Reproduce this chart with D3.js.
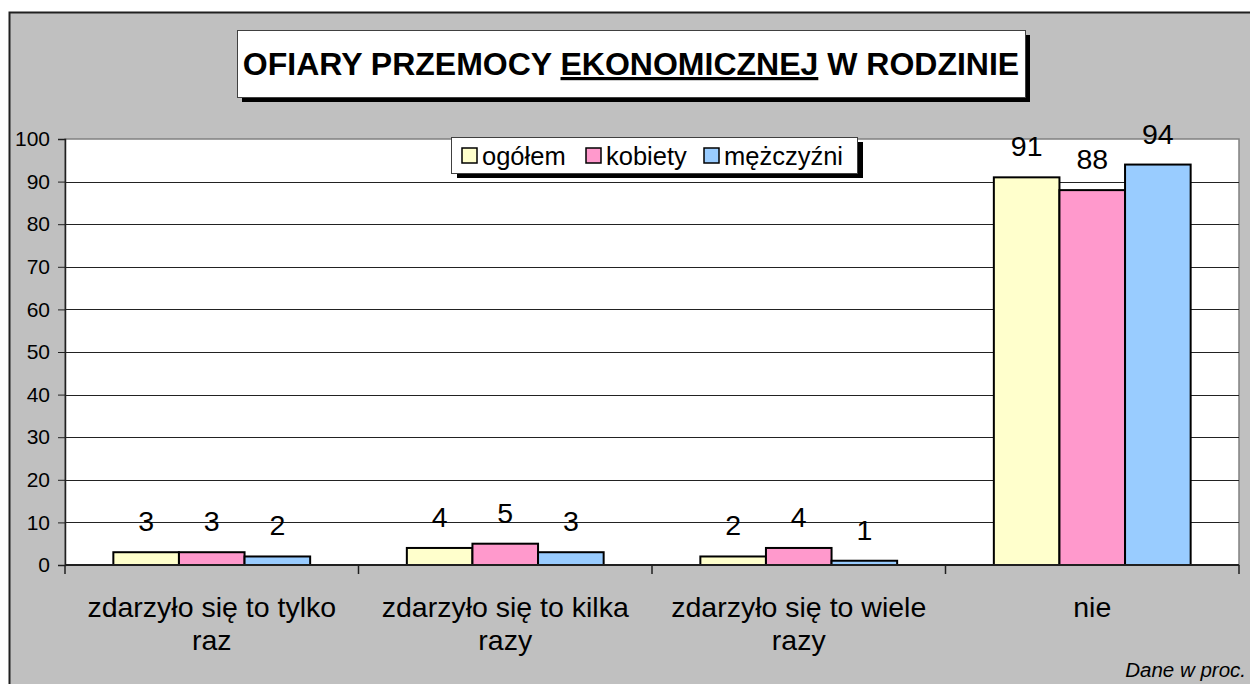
<!DOCTYPE html>
<html>
  <head>
    <meta charset="utf-8">
    <script src="https://d3js.org/d3.v7.min.js"></script>
    <title>Ofiary przemocy ekonomicznej w rodzinie</title>
    <style>
      body {
        margin: 0px;
        background: #fff;
      }
      text {
        font-family: "Liberation Sans", Arial, sans-serif;
        fill: #000;
      }
      .tick text {
        font-size: 21px;
      }
    </style>
  </head>
  <body>
    <div id="viz1"></div>
    <script>
      // data
      const categories = ['zdarzyło się to tylko raz', 'zdarzyło się to kilka razy', 'zdarzyło się to wiele razy', 'nie'];
      const seriesNames = ['ogółem', 'kobiety', 'mężczyźni'];
      const ogolem = [3, 4, 2, 91];
      const kobiety = [3, 5, 4, 88];
      const mezczyzni = [2, 3, 1, 94];
      const yTicks = [0, 10, 20, 30, 40, 50, 60, 70, 80, 90, 100];
      const colors = ['#FFFFCC', '#FF99CC', '#99CCFF'];

      const seriesValues = [ogolem, kobiety, mezczyzni];

      const width = 1250, height = 684;
      const plot = { left: 65, right: 1239, top: 139, bottom: 565 };

      const svg = d3.select('#viz1').append('svg')
        .attr('width', width)
        .attr('height', height);

      // chart area
      svg.append('rect')
        .attr('x', 9.5).attr('y', 12.5)
        .attr('width', width).attr('height', height)
        .attr('fill', '#C0C0C0')
        .attr('stroke', '#202020')
        .attr('stroke-width', 2);

      // scales
      const xScale = d3.scaleBand()
        .domain(categories)
        .range([plot.left, plot.right])
        .paddingInner(0).paddingOuter(0);

      const xInner = d3.scaleBand()
        .domain(seriesNames)
        .range([0, xScale.bandwidth()])
        .paddingInner(0)
        .paddingOuter(0.737);

      const yScale = d3.scaleLinear()
        .domain([0, 100])
        .range([plot.bottom, plot.top]);

      // plot area
      svg.append('rect')
        .attr('x', plot.left).attr('y', plot.top)
        .attr('width', plot.right - plot.left)
        .attr('height', plot.bottom - plot.top)
        .attr('fill', '#fff')
        .attr('stroke', '#808080')
        .attr('stroke-width', 1.5);

      // y axis + gridlines
      const yAxis = d3.axisLeft(yScale)
        .tickValues(yTicks)
        .tickSize(7)
        .tickPadding(8);

      const yAxisG = svg.append('g')
        .attr('transform', `translate(${plot.left},0)`)
        .call(yAxis);
      yAxisG.select('.domain').attr('stroke', '#202020').attr('stroke-width', 1.5);
      yAxisG.selectAll('.tick line').attr('stroke', '#202020');

      svg.append('g').selectAll('line')
        .data(yTicks.filter(d => d > 0 && d < 100))
        .enter().append('line')
          .attr('x1', plot.left).attr('x2', plot.right)
          .attr('y1', d => Math.round(yScale(d)) + 0.5)
          .attr('y2', d => Math.round(yScale(d)) + 0.5)
          .attr('stroke', '#222');

      // bars
      const groups = svg.append('g').selectAll('g')
        .data(categories)
        .enter().append('g')
          .attr('transform', d => `translate(${xScale(d)},0)`);

      groups.selectAll('rect')
        .data((d, i) => seriesNames.map((s, j) => ({ s: s, j: j, v: seriesValues[j][i] })))
        .enter().append('rect')
          .attr('x', d => xInner(d.s))
          .attr('y', d => yScale(d.v))
          .attr('width', xInner.bandwidth())
          .attr('height', d => plot.bottom - yScale(d.v))
          .attr('fill', d => colors[d.j])
          .attr('stroke', '#000')
          .attr('stroke-width', 2);

      groups.selectAll('text.val')
        .data((d, i) => seriesNames.map((s, j) => ({ s: s, j: j, v: seriesValues[j][i] })))
        .enter().append('text')
          .attr('class', 'val')
          .attr('x', d => xInner(d.s) + xInner.bandwidth() / 2)
          .attr('y', d => yScale(d.v) - 21)
          .attr('text-anchor', 'middle')
          .style('font-size', '28.5px')
          .text(d => d.v);

      // x axis
      const xAxisG = svg.append('g')
        .attr('transform', `translate(0,${plot.bottom})`);
      xAxisG.append('line')
        .attr('x1', plot.left).attr('x2', plot.right)
        .attr('stroke', '#202020').attr('stroke-width', 2);
      xAxisG.selectAll('line.tk')
        .data(d3.range(categories.length + 1))
        .enter().append('line')
          .attr('class', 'tk')
          .attr('x1', i => plot.left + i * xScale.step())
          .attr('x2', i => plot.left + i * xScale.step())
          .attr('y1', 0).attr('y2', 9)
          .attr('stroke', '#202020').attr('stroke-width', 1.5);

      const catText = xAxisG.selectAll('text.cat')
        .data(categories)
        .enter().append('text')
          .attr('class', 'cat')
          .attr('text-anchor', 'middle')
          .attr('x', d => xScale(d) + xScale.bandwidth() / 2)
          .attr('y', 52)
          .style('font-size', '28.5px')
          .text(d => d);

      // wrap long labels
      catText.each(function(d) {
        const t = d3.select(this);
        const words = d.split(' ');
        const x = t.attr('x');
        t.text(null);
        let line = [];
        let tspan = t.append('tspan').attr('x', x).attr('dy', 0);
        words.forEach(w => {
          line.push(w);
          tspan.text(line.join(' '));
          if (tspan.node().getComputedTextLength() > 275 && line.length > 1) {
            line.pop();
            tspan.text(line.join(' '));
            line = [w];
            tspan = t.append('tspan').attr('x', x).attr('dy', 33).text(w);
          }
        });
      });

      // title
      const titleG = svg.append('g');
      titleG.append('rect')
        .attr('x', 242).attr('y', 35).attr('width', 788).attr('height', 67)
        .attr('fill', '#000');
      titleG.append('rect')
        .attr('x', 237.5).attr('y', 30.5).attr('width', 788).attr('height', 67)
        .attr('fill', '#fff').attr('stroke', '#404040');
      const title = titleG.append('text')
        .attr('x', 631).attr('y', 75)
        .attr('text-anchor', 'middle')
        .style('font-size', '32px')
        .style('font-weight', 'bold');
      title.append('tspan').text('OFIARY PRZEMOCY ');
      title.append('tspan').style('text-decoration', 'underline').text('EKONOMICZNEJ');
      title.append('tspan').text(' W RODZINIE');

      // legend
      const legendG = svg.append('g');
      legendG.append('rect')
        .attr('x', 457).attr('y', 142).attr('width', 406).attr('height', 36)
        .attr('fill', '#000');
      legendG.append('rect')
        .attr('x', 451.5).attr('y', 137.5).attr('width', 406).attr('height', 36)
        .attr('fill', '#fff').attr('stroke', '#404040');
      const legendX = [462, 586, 704];
      const items = legendG.selectAll('g.item')
        .data(seriesNames)
        .enter().append('g')
          .attr('transform', (d, i) => `translate(${legendX[i]},148)`);
      items.append('rect')
        .attr('width', 15).attr('height', 15)
        .attr('fill', (d, i) => colors[i])
        .attr('stroke', '#000').attr('stroke-width', 1.5);
      items.append('text')
        .attr('x', 20).attr('y', 17)
        .style('font-size', '25.5px')
        .text(d => d);

      // note
      svg.append('text')
        .attr('x', 1246).attr('y', 677)
        .attr('text-anchor', 'end')
        .style('font-size', '20.5px')
        .style('font-style', 'italic')
        .text('Dane w proc.');
    </script>
  </body>
</html>
